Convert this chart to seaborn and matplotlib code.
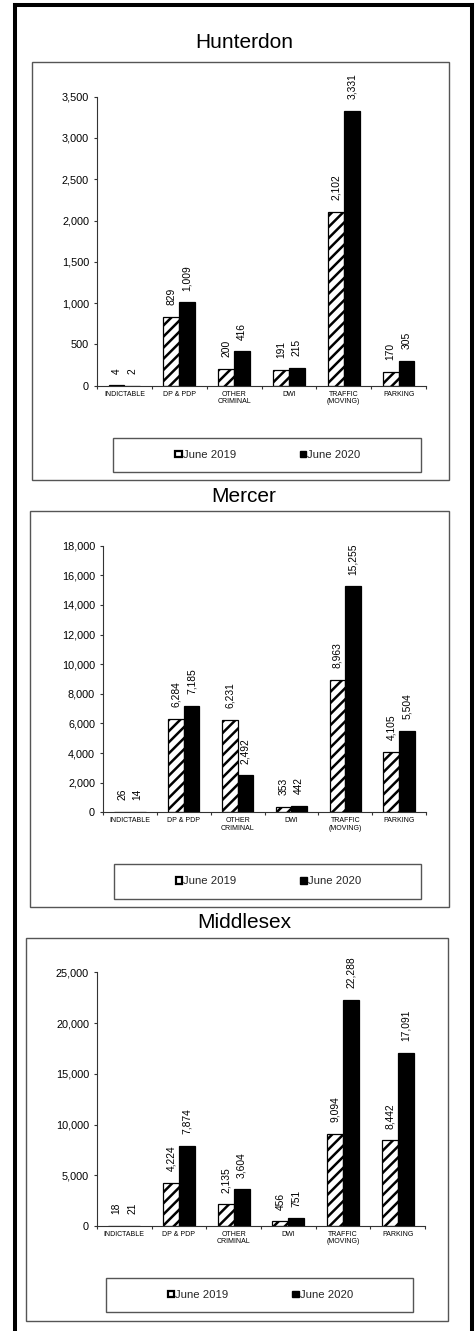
import matplotlib
matplotlib.use("Agg")
import matplotlib.pyplot as plt
import seaborn as sns
import pandas as pd
from matplotlib.patches import Rectangle, Patch
from matplotlib.legend import Legend

# ---------------- data ----------------
categories = ["INDICTABLE", "DP & PDP", "OTHER\nCRIMINAL", "DWI", "TRAFFIC\n(MOVING)", "PARKING"]
years = ["June 2019", "June 2020"]
counties = ["Hunterdon", "Mercer", "Middlesex"]

hunterdon_2019 = [4, 829, 200, 191, 2102, 170]
hunterdon_2020 = [2, 1009, 416, 215, 3331, 305]
mercer_2019 = [26, 6284, 6231, 353, 8963, 4105]
mercer_2020 = [14, 7185, 2492, 442, 15255, 5504]
middlesex_2019 = [18, 4224, 2135, 456, 9094, 8442]
middlesex_2020 = [21, 7874, 3604, 751, 22288, 17091]

hunterdon_ticks = [0, 500, 1000, 1500, 2000, 2500, 3000, 3500]
mercer_ticks = [0, 2000, 4000, 6000, 8000, 10000, 12000, 14000, 16000, 18000]
middlesex_ticks = [0, 5000, 10000, 15000, 20000, 25000]

series = {
    "Hunterdon": (hunterdon_2019, hunterdon_2020, hunterdon_ticks),
    "Mercer": (mercer_2019, mercer_2020, mercer_ticks),
    "Middlesex": (middlesex_2019, middlesex_2020, middlesex_ticks),
}

# ---------------- layout (pixels) ----------------
W, H = 476, 1331
layout = {
    "Hunterdon": dict(title=(244, 43), panel=(32, 62, 449, 480),
                      axes=(97, 96.7, 426, 385.7), legend=(113, 438, 421, 472)),
    "Mercer": dict(title=(244, 497), panel=(30, 511, 449, 907),
                   axes=(103, 545.7, 426, 812.3), legend=(114, 864, 421, 899)),
    "Middlesex": dict(title=(244, 922), panel=(26, 938, 448, 1321),
                      axes=(97, 972.3, 425, 1226), legend=(106, 1278, 413, 1312)),
}

sns.set_style("white")
plt.rcParams["font.family"] = ["Liberation Sans", "DejaVu Sans"]
plt.rcParams["hatch.linewidth"] = 1.8
plt.rcParams["hatch.color"] = "black"

fig = plt.figure(figsize=(W / 100, H / 100), dpi=100)
fig.patch.set_facecolor("white")

bg = fig.add_axes([0, 0, 1, 1], zorder=0)
bg.set_xlim(0, W)
bg.set_ylim(H, 0)
bg.axis("off")

bg.plot([15, 15], [H + 5, 5], color="black", lw=2.9, solid_capstyle="projecting")
bg.plot([15, 472], [5, 5], color="black", lw=2.9, solid_capstyle="projecting")
bg.plot([472, 472], [5, H + 5], color="black", lw=2.9, solid_capstyle="projecting")

palette = {years[0]: "white", years[1]: "black"}

for county in counties:
    v19, v20, ticks = series[county]
    L = layout[county]

    bg.text(L["title"][0], L["title"][1], county, ha="center", va="center",
            fontsize=15, color="black")
    pl, pt, pr, pb = L["panel"]
    bg.add_patch(Rectangle((pl, pt), pr - pl, pb - pt, fill=False,
                           edgecolor="#555555", lw=1.0))
    ll, lt, lr, lb = L["legend"]
    bg.add_patch(Rectangle((ll, lt), lr - ll, lb - lt, fill=False,
                           edgecolor="#555555", lw=1.0))
    handles = [Patch(facecolor="white", edgecolor="black", linewidth=1.6),
               Patch(facecolor="black", edgecolor="black", linewidth=1.0)]
    leg = Legend(bg, handles, years, loc="center",
                 bbox_to_anchor=((ll + lr) / 2 + 1, (lt + lb) / 2),
                 bbox_transform=bg.transData, ncol=2, frameon=False,
                 fontsize=8.2, handlelength=0.55, handleheight=0.55,
                 handletextpad=0.1, columnspacing=5.6, borderpad=0,
                 borderaxespad=0)
    bg.add_artist(leg)

    al, at, ar, ab = L["axes"]
    ax = fig.add_axes([al / W, 1 - ab / H, (ar - al) / W, (ab - at) / H], zorder=2)
    ax.patch.set_alpha(0)

    df = pd.DataFrame({
        "cat": categories * 2,
        "year": [years[0]] * len(categories) + [years[1]] * len(categories),
        "val": list(v19) + list(v20),
    })
    sns.barplot(data=df, x="cat", y="val", hue="year", order=categories,
                hue_order=years, palette=palette, width=0.58, saturation=1,
                edgecolor="black", linewidth=0.9, ax=ax, legend=False)

    for bar in ax.containers[0]:
        bar.set_hatch("///")

    for cont, vals in zip(ax.containers, (v19, v20)):
        for bar, v in zip(cont, vals):
            ax.annotate(f"{v:,}", (bar.get_x() + bar.get_width() / 2, bar.get_height()),
                        xytext=(0, 8.5), textcoords="offset points", rotation=90,
                        ha="center", va="bottom", fontsize=7.4, color="black",
                        annotation_clip=False)

    ax.set_xlim(-0.5, len(categories) - 0.5)
    ax.set_ylim(0, ticks[-1])
    ax.set_yticks(ticks)
    ax.set_yticklabels([f"{t:,}" for t in ticks])
    ax.set_xlabel("")
    ax.set_ylabel("")
    ax.set_xticks(range(len(categories)))
    ax.set_xticklabels(categories, fontsize=5, linespacing=1.1)
    ax.set_xticks([i - 0.5 for i in range(len(categories) + 1)], minor=True)

    for s in ("top", "right"):
        ax.spines[s].set_visible(False)
    for s in ("left", "bottom"):
        ax.spines[s].set_color("#333333")
        ax.spines[s].set_linewidth(0.8)

    ax.tick_params(axis="y", direction="out", length=2.5, width=0.8,
                   pad=3.2, labelsize=7.8, colors="#333333", labelcolor="black", left=True)
    ax.tick_params(axis="x", which="major", length=0, pad=3.5, labelcolor="black")
    ax.tick_params(axis="x", which="minor", direction="out", length=2.5, width=0.8,
                   colors="#333333", bottom=True)
    ax.grid(False)

fig.savefig("out.png", dpi=100, facecolor="white")
